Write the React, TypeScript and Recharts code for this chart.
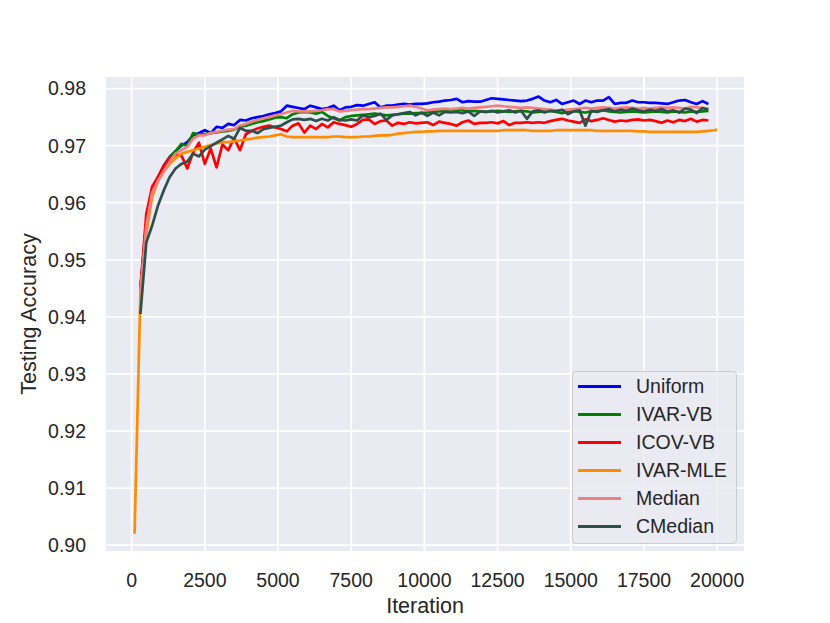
import { LineChart, Line, XAxis, YAxis, CartesianGrid, Legend, Label } from 'recharts'

const ITERATIONS = [
  100, 300, 500, 700, 900, 1100, 1300, 1500, 1700, 1900,
  2100, 2300, 2500, 2700, 2900, 3100, 3300, 3500, 3700, 3900,
  4100, 4300, 4500, 4700, 4900, 5100, 5300, 5500, 5700, 5900,
  6100, 6300, 6500, 6700, 6900, 7100, 7300, 7500, 7700, 7900,
  8100, 8300, 8500, 8700, 8900, 9100, 9300, 9500, 9700, 9900,
  10100, 10300, 10500, 10700, 10900, 11100, 11300, 11500, 11700, 11900,
  12100, 12300, 12500, 12700, 12900, 13100, 13300, 13500, 13700, 13900,
  14100, 14300, 14500, 14700, 14900, 15100, 15300, 15500, 15700, 15900,
  16100, 16300, 16500, 16700, 16900, 17100, 17300, 17500, 17700, 17900,
  18100, 18300, 18500, 18700, 18900, 19100, 19300, 19500, 19700, 19900,
  20000,
]

const UNIFORM = [
  null, 0.9450, 0.9565, 0.9625, 0.9645, 0.9665, 0.9680, 0.9690, 0.9700, 0.9706,
  0.9718, 0.9722, 0.9727, 0.9722, 0.9733, 0.9731, 0.9738, 0.9736, 0.9745, 0.9744,
  0.9748, 0.9750, 0.9752, 0.9755, 0.9757, 0.9760, 0.9770, 0.9768, 0.9766, 0.9764,
  0.9770, 0.9767, 0.9764, 0.9766, 0.9770, 0.9762, 0.9767, 0.9768, 0.9771, 0.9770,
  0.9773, 0.9776, 0.9767, 0.9770, 0.9770, 0.9772, 0.9773, 0.9772, 0.9773, 0.9773,
  0.9774, 0.9776, 0.9777, 0.9779, 0.9780, 0.9782, 0.9776, 0.9778, 0.9777, 0.9777,
  0.9780, 0.9783, 0.9782, 0.9781, 0.9780, 0.9779, 0.9778, 0.9779, 0.9782, 0.9786,
  0.9779, 0.9776, 0.9780, 0.9773, 0.9776, 0.9779, 0.9773, 0.9779, 0.9776, 0.9779,
  0.9779, 0.9785, 0.9773, 0.9775, 0.9775, 0.9779, 0.9776, 0.9776, 0.9775, 0.9775,
  0.9774, 0.9773, 0.9776, 0.9779, 0.9780, 0.9776, 0.9773, 0.9778, 0.9773, null,
  null,
]

const IVAR_VB = [
  null, 0.9445, 0.9562, 0.9622, 0.9642, 0.9660, 0.9680, 0.9690, 0.9703, 0.9700,
  0.9722, 0.9719, 0.9720, 0.9722, 0.9723, 0.9725, 0.9726, 0.9728, 0.9733, 0.9735,
  0.9738, 0.9741, 0.9743, 0.9746, 0.9749, 0.9750, 0.9748, 0.9755, 0.9758, 0.9759,
  0.9758, 0.9756, 0.9759, 0.9752, 0.9748, 0.9744, 0.9750, 0.9752, 0.9753, 0.9754,
  0.9755, 0.9756, 0.9755, 0.9753, 0.9754, 0.9755, 0.9756, 0.9756, 0.9757, 0.9757,
  0.9758, 0.9759, 0.9760, 0.9761, 0.9762, 0.9763, 0.9762, 0.9760, 0.9761, 0.9760,
  0.9759, 0.9760, 0.9761, 0.9760, 0.9759, 0.9760, 0.9761, 0.9760, 0.9758, 0.9759,
  0.9760, 0.9761, 0.9759, 0.9757, 0.9760, 0.9761, 0.9759, 0.9758, 0.9760, 0.9761,
  0.9762, 0.9760, 0.9759, 0.9758, 0.9759, 0.9760, 0.9759, 0.9758, 0.9759, 0.9760,
  0.9759, 0.9758, 0.9760, 0.9759, 0.9758, 0.9760, 0.9759, 0.9760, 0.9761, null,
  null,
]

const ICOV_VB = [
  null, 0.9450, 0.9580, 0.9628, 0.9645, 0.9665, 0.9678, 0.9683, 0.9683, 0.9660,
  0.9688, 0.9705, 0.9668, 0.9695, 0.9662, 0.9702, 0.9692, 0.9713, 0.9692, 0.9720,
  0.9726, 0.9730, 0.9733, 0.9735, 0.9732, 0.9729, 0.9725, 0.9735, 0.9739, 0.9723,
  0.9735, 0.9729, 0.9738, 0.9732, 0.9741, 0.9738, 0.9736, 0.9733, 0.9738, 0.9745,
  0.9746, 0.9738, 0.9743, 0.9744, 0.9735, 0.9740, 0.9738, 0.9741, 0.9739, 0.9740,
  0.9741, 0.9736, 0.9742, 0.9740, 0.9738, 0.9735, 0.9741, 0.9744, 0.9738, 0.9740,
  0.9740, 0.9741, 0.9739, 0.9743, 0.9736, 0.9740, 0.9740, 0.9741, 0.9740, 0.9741,
  0.9740, 0.9743, 0.9745, 0.9747, 0.9744, 0.9742, 0.9740, 0.9746, 0.9743, 0.9745,
  0.9748, 0.9745, 0.9742, 0.9744, 0.9743, 0.9745, 0.9746, 0.9744, 0.9745, 0.9743,
  0.9740, 0.9744, 0.9741, 0.9745, 0.9743, 0.9747, 0.9742, 0.9745, 0.9744, null,
  null,
]

const IVAR_MLE = [
  0.9020, 0.9445, 0.9545, 0.9610, 0.9638, 0.9655, 0.9668, 0.9678, 0.9686, 0.9689,
  0.9692, 0.9695, 0.9698, 0.9701, 0.9704, 0.9706, 0.9706, 0.9708, 0.9709, 0.9711,
  0.9712, 0.9714, 0.9715, 0.9716, 0.9718, 0.9720, 0.9716, 0.9715, 0.9715, 0.9715,
  0.9715, 0.9715, 0.9715, 0.9715, 0.9716, 0.9716, 0.9715, 0.9715, 0.9715, 0.9716,
  0.9716, 0.9717, 0.9718, 0.9718, 0.9719, 0.9721, 0.9722, 0.9723, 0.9724, 0.9724,
  0.9725, 0.9725, 0.9726, 0.9726, 0.9726, 0.9726, 0.9726, 0.9726, 0.9726, 0.9726,
  0.9726, 0.9726, 0.9726, 0.9727, 0.9727, 0.9727, 0.9727, 0.9727, 0.9726, 0.9726,
  0.9726, 0.9726, 0.9727, 0.9727, 0.9727, 0.9727, 0.9727, 0.9727, 0.9727, 0.9726,
  0.9726, 0.9726, 0.9726, 0.9726, 0.9726, 0.9726, 0.9725, 0.9725, 0.9724, 0.9724,
  0.9724, 0.9724, 0.9724, 0.9724, 0.9724, 0.9724, 0.9724, 0.9725, 0.9726, 0.9727,
  0.9728,
]

const MEDIAN = [
  null, 0.9440, 0.9560, 0.9618, 0.9638, 0.9655, 0.9672, 0.9686, 0.9692, 0.9698,
  0.9712, 0.9718, 0.9718, 0.9722, 0.9724, 0.9726, 0.9728, 0.9729, 0.9735, 0.9738,
  0.9742, 0.9745, 0.9748, 0.9750, 0.9753, 0.9755, 0.9758, 0.9761, 0.9760, 0.9760,
  0.9760, 0.9761, 0.9762, 0.9764, 0.9764, 0.9760, 0.9761, 0.9762, 0.9763, 0.9764,
  0.9764, 0.9765, 0.9766, 0.9767, 0.9767, 0.9768, 0.9769, 0.9770, 0.9768, 0.9765,
  0.9762, 0.9763, 0.9764, 0.9765, 0.9764, 0.9765, 0.9766, 0.9765, 0.9766, 0.9767,
  0.9768, 0.9769, 0.9770, 0.9769, 0.9768, 0.9767, 0.9766, 0.9767, 0.9766, 0.9765,
  0.9764, 0.9763, 0.9762, 0.9762, 0.9763, 0.9764, 0.9765, 0.9766, 0.9765, 0.9766,
  0.9767, 0.9766, 0.9765, 0.9766, 0.9767, 0.9766, 0.9765, 0.9766, 0.9765, 0.9766,
  0.9767, 0.9766, 0.9767, 0.9766, 0.9765, 0.9768, 0.9767, 0.9766, 0.9765, null,
  null,
]

const CMEDIAN = [
  null, 0.9405, 0.9530, 0.9560, 0.9595, 0.9622, 0.9645, 0.9660, 0.9668, 0.9672,
  0.9686, 0.9681, 0.9693, 0.9699, 0.9705, 0.9711, 0.9717, 0.9712, 0.9731, 0.9726,
  0.9726, 0.9722, 0.9729, 0.9731, 0.9733, 0.9735, 0.9741, 0.9746, 0.9747, 0.9745,
  0.9747, 0.9743, 0.9747, 0.9744, 0.9750, 0.9745, 0.9744, 0.9746, 0.9744, 0.9753,
  0.9750, 0.9752, 0.9756, 0.9745, 0.9753, 0.9755, 0.9757, 0.9759, 0.9753, 0.9758,
  0.9752, 0.9758, 0.9753, 0.9759, 0.9758, 0.9759, 0.9757, 0.9760, 0.9752, 0.9760,
  0.9759, 0.9761, 0.9758, 0.9760, 0.9762, 0.9758, 0.9761, 0.9747, 0.9760, 0.9762,
  0.9758, 0.9761, 0.9760, 0.9763, 0.9755, 0.9760, 0.9762, 0.9735, 0.9761, 0.9759,
  0.9762, 0.9764, 0.9760, 0.9763, 0.9761, 0.9765, 0.9762, 0.9760, 0.9763, 0.9761,
  0.9764, 0.9760, 0.9762, 0.9758, 0.9765, 0.9763, 0.9757, 0.9766, 0.9763, null,
  null,
]

const X_TICKS = [0, 2500, 5000, 7500, 10000, 12500, 15000, 17500, 20000]
const Y_TICKS = [0.90, 0.91, 0.92, 0.93, 0.94, 0.95, 0.96, 0.97, 0.98]

const SERIES = [
  { key: 'uniform', name: 'Uniform', color: '#0000ff', values: UNIFORM },
  { key: 'ivarVb', name: 'IVAR-VB', color: '#008000', values: IVAR_VB },
  { key: 'icovVb', name: 'ICOV-VB', color: '#ff0000', values: ICOV_VB },
  { key: 'ivarMle', name: 'IVAR-MLE', color: '#ff8c00', values: IVAR_MLE },
  { key: 'median', name: 'Median', color: '#f08080', values: MEDIAN },
  { key: 'cmedian', name: 'CMedian', color: '#2f4f4f', values: CMEDIAN },
]

const rows = ITERATIONS.map((it, i) => {
  const row: any = { it }
  SERIES.forEach(s => { row[s.key] = s.values[i] })
  return row
})

const FONT = '"Liberation Sans", Arial, Helvetica, sans-serif'
const TEXT = '#262626'

// legend keeps the plotting order (recharts would sort it by name)
function LegendBox() {
  return (
    <div style={{
      width: 165, height: 173, boxSizing: 'border-box', background: 'rgba(234,234,242,0.8)',
      border: '1px solid #cccccc', borderRadius: 4, paddingTop: 0, fontFamily: FONT,
    }}>
      {SERIES.map(s => (
        <div key={s.key} style={{ height: 28, display: 'flex', alignItems: 'center' }}>
          <div style={{ width: 43, height: 3, background: s.color, marginLeft: 5 }} />
          <span style={{ marginLeft: 15, fontSize: 19.5, color: TEXT, lineHeight: '28px' }}>{s.name}</span>
        </div>
      ))}
    </div>
  )
}

export default function App() {
  return (
    <div style={{ position: 'absolute', left: 0, top: 0, width: 830, height: 623, background: '#fff' }}>
      <LineChart width={830} height={623} data={rows} margin={{ top: 76, right: 85, bottom: 31, left: 0 }}>
        <CartesianGrid fill="#eaeaf2" fillOpacity={1} stroke="#ffffff" strokeWidth={1.8} />
        <XAxis
          dataKey="it" type="number" domain={[-910, 20950]} ticks={X_TICKS} allowDataOverflow
          axisLine={false} tickLine={false} tickSize={0} tickMargin={21} height={40} interval={0}
          tick={{ fontSize: 19.5, fill: TEXT, fontFamily: FONT }}
        >
          <Label value="Iteration" position="bottom" offset={6} style={{ fontSize: 21.5, fill: TEXT, fontFamily: FONT }} />
        </XAxis>
        <YAxis
          type="number" domain={[0.8988, 0.9822]} ticks={Y_TICKS} allowDataOverflow width={105}
          axisLine={false} tickLine={false} tickSize={0} tickMargin={19} interval={0}
          tickFormatter={(v: number) => v.toFixed(2)}
          tick={{ fontSize: 19.5, fill: TEXT, fontFamily: FONT }}
        >
          <Label value="Testing Accuracy" angle={-90} position="insideLeft" offset={28.7}
            style={{ fontSize: 21.5, fill: TEXT, fontFamily: FONT, textAnchor: 'middle' }} />
        </YAxis>
        <Legend
          layout="horizontal" verticalAlign="middle" align="center"
          content={<LegendBox />}
          wrapperStyle={{ position: 'absolute', left: 572, top: 371, width: 165, height: 173, bottom: 'auto', right: 'auto', margin: 0 }}
        />
        {SERIES.map(s => (
          <Line
            key={s.key} dataKey={s.key} name={s.name} stroke={s.color} strokeWidth={2.7}
            dot={false} activeDot={false} isAnimationActive={false} strokeLinejoin="round"
            type="linear"
          />
        ))}
      </LineChart>
    </div>
  )
}
